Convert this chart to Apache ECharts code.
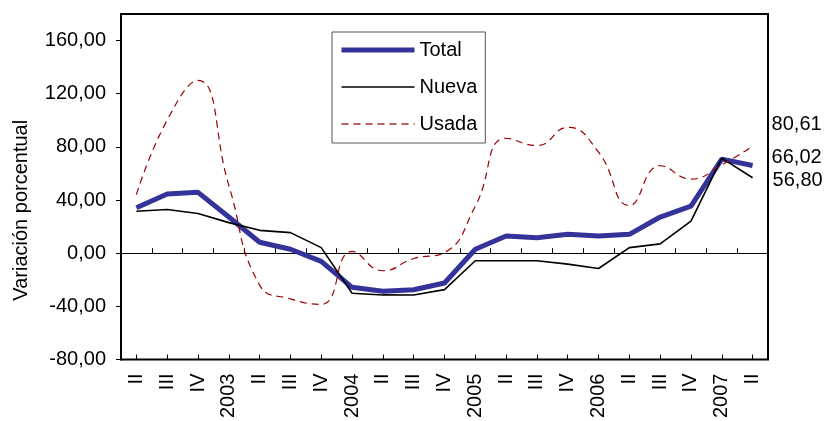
<!DOCTYPE html>
<html>
<head>
<meta charset="utf-8">
<script src="https://cdn.jsdelivr.net/npm/echarts@6/dist/echarts.min.js"></script>
<style>
html,body{margin:0;padding:0;background:#fff;}
#chart{width:826px;height:421px;}
</style>
</head>
<body>
<div id="chart"></div>
<script>
const categories = ['II','III','IV','2003','II','III','IV','2004','II','III','IV','2005','II','III','IV','2006','II','III','IV','2007','II'];
const totalValues = [34.2, 44.6, 45.8, 27.2, 8.2, 3.0, -6.2, -25.7, -28.6, -27.5, -22.4, 3.0, 12.9, 11.7, 14.2, 12.9, 14.2, 27.2, 35.4, 70.8, 66.02];
const nuevaValues = [31.6, 32.9, 29.9, 23.0, 17.2, 15.5, 4.2, -30.1, -31.4, -31.5, -27.4, -5.7, -5.7, -5.7, -8.2, -11.5, 4.2, 7.0, 24.2, 71.5, 56.80];
const usadaValues = [44.1, 100.2, 130.0, 51.0, -24.0, -34.4, -38.5, 1.3, -13.2, -4.0, 0.5, 35.4, 86.5, 81.0, 94.7, 76.0, 35.9, 65.8, 55.8, 66.5, 80.61];
const seriesNames = ['Total', 'Nueva', 'Usada'];
const yTickValues = [-80, -40, 0, 40, 80, 120, 160];

const FONT = 'Liberation Sans, Arial, sans-serif';
const fmt = v => Number(v).toFixed(2).replace('.', ',');

function endLabel(offset) {
  return {
    show: true, distance: 5, offset: offset,
    formatter: p => fmt(p.value),
    color: '#000', fontSize: 20, fontFamily: FONT
  };
}

const chart = echarts.init(document.getElementById('chart'), null, {renderer: 'canvas'});
const option = {
  animation: false,
  backgroundColor: '#fff',
  grid: {
    left: 121, top: 14, right: 58, bottom: 60,
    show: true, borderColor: '#000', borderWidth: 2, backgroundColor: 'transparent'
  },
  legend: {
    orient: 'vertical',
    left: 332, top: 32,
    padding: [8, 8, 9, 7],
    itemWidth: 73, itemHeight: 14, itemGap: 17,
    backgroundColor: '#fff', borderColor: '#555', borderWidth: 1,
    itemStyle: {opacity: 0},
    textStyle: {fontSize: 20, fontFamily: FONT, color: '#000'},
    data: [
      {name: seriesNames[0], lineStyle: {width: 5, color: '#333399'}},
      {name: seriesNames[1], lineStyle: {width: 1.6, color: '#000'}},
      {name: seriesNames[2], lineStyle: {width: 1.4, color: '#a83030', type: [7, 5]}}
    ]
  },
  xAxis: [
    {
      type: 'category', data: categories, boundaryGap: true, position: 'bottom',
      axisLine: {show: true, onZero: true, lineStyle: {color: '#000', width: 1}},
      axisTick: {show: true, inside: true, length: 5, interval: 0, lineStyle: {color: '#000'}},
      axisLabel: {show: false},
      splitLine: {show: false}
    },
    {
      type: 'category', data: categories, boundaryGap: true, position: 'bottom',
      axisLine: {show: false, onZero: true},
      axisTick: {show: true, inside: true, length: 5, alignWithLabel: true, interval: 0, lineStyle: {color: '#000'}},
      axisLabel: {show: false, interval: 0},
      splitLine: {show: false}
    },
    {
      type: 'category', data: categories, boundaryGap: true, position: 'bottom',
      axisLine: {show: false, onZero: false},
      axisTick: {show: false},
      axisLabel: {show: true, interval: 0, rotate: 90, margin: 14, fontSize: 20, fontFamily: FONT, color: '#000'},
      splitLine: {show: false}
    }
  ],
  yAxis: {
    type: 'value', min: -80, max: 180, interval: 40,
    name: 'Variación porcentual', nameLocation: 'middle', nameRotate: 90, nameGap: 90,
    nameTextStyle: {fontSize: 20, fontFamily: FONT, color: '#000', padding: [0, 47, 0, 0]},
    axisLine: {show: true, lineStyle: {color: '#000', width: 2}},
    axisTick: {show: true, inside: false, length: 5, lineStyle: {color: '#000'}},
    axisLabel: {
      margin: 15, fontSize: 20, fontFamily: FONT, color: '#000', showMaxLabel: false,
      formatter: v => yTickValues.indexOf(v) >= 0 ? fmt(v) : ''
    },
    splitLine: {show: false}
  },
  series: [
    {
      name: seriesNames[0], type: 'line', xAxisIndex: 0, symbol: 'none',
      lineStyle: {color: '#333399', width: 5}, itemStyle: {color: '#333399'},
      endLabel: endLabel([14, -8]),
      data: totalValues
    },
    {
      name: seriesNames[1], type: 'line', xAxisIndex: 0, symbol: 'none',
      lineStyle: {color: '#000', width: 1.6}, itemStyle: {color: '#000'},
      endLabel: endLabel([15, 3]),
      data: nuevaValues
    },
    {
      name: seriesNames[2], type: 'line', xAxisIndex: 0, symbol: 'none', smooth: 0.5,
      lineStyle: {color: '#990000', width: 1.2, type: [7, 5]}, itemStyle: {color: '#990000'},
      endLabel: endLabel([14, -22]),
      data: usadaValues
    }
  ]
};
chart.setOption(option);
</script>
</body>
</html>
